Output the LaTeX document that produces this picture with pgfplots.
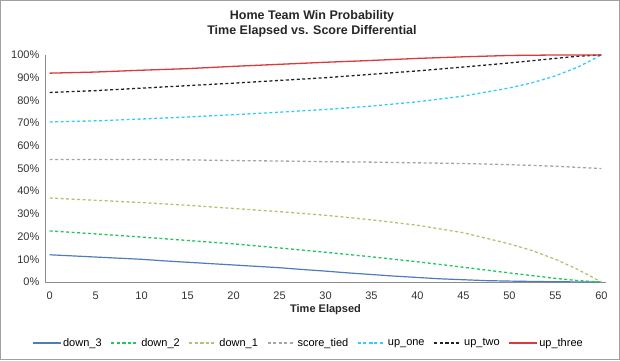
\documentclass[border=0pt]{standalone}
\usepackage{pgfplots}
\pgfplotsset{compat=1.18}
\usepackage{fontspec}
\setmainfont{Liberation Sans}
\definecolor{cdthree}{HTML}{4F7BC0}
\definecolor{cdtwo}{HTML}{22C55E}
\definecolor{cdone}{HTML}{BDBD78}
\definecolor{ctied}{HTML}{A6A6A6}
\definecolor{cupone}{HTML}{33CCFF}
\definecolor{cuptwo}{HTML}{222222}
\definecolor{cupthree}{HTML}{D93A3A}
\definecolor{cframe}{HTML}{A0A0A0}
\begin{document}
\begin{tikzpicture}[x=1pt,y=1pt]
\draw[cframe,line width=1.2pt] (0.6,0.6) rectangle (619.4,359.4);
\node[font=\bfseries\fontsize{12.5}{15}\selectfont,align=center,text=black!85] at (312,336) {Home Team Win Probability\\Time Elapsed vs. Score Differential};
\begin{axis}[
  at={(45pt,78pt)}, anchor=south west,
  scale only axis, width=561pt, height=227pt,
  xmin=-0.5, xmax=60.5, ymin=0, ymax=100,
  axis lines=left, axis line style={draw=black!45,-},
  xtick={0,5,...,60}, ytick={0,10,...,100},
  yticklabel={\pgfmathprintnumber{\tick}\%},
  tick style={draw=none},
  /pgf/number format/assume math mode=true,
  ticklabel style={font=\fontsize{11}{13}\selectfont,text=black!80},
  xticklabel style={yshift=-4pt},
  xlabel={Time Elapsed},
  xlabel style={font=\bfseries\fontsize{11}{13}\selectfont,text=black!85,
    at={(axis description cs:0.5,0)},anchor=center,yshift=-28pt},
  legend columns=7,
  legend style={at={(0.47,-0.269)},anchor=center,draw=none,font=\fontsize{11}{13}\selectfont,
    /tikz/every even column/.append style={column sep=7pt}},
  legend image post style={xscale=1.6},
  clip=false,
]
\addplot[cdthree,line width=1.2pt] coordinates {(0,12)(2.5,11.5)(5,11)(7.5,10.5)(10,10)(12.5,9.3)(15,8.7)(17.5,8.1)(20,7.5)(22.5,6.9)(25,6.3)(27.5,5.5)(30,4.8)(32.5,4)(35,3.3)(37.5,2.6)(40,2)(42.5,1.4)(45,1)(47.5,0.6)(50,0.4)(55,0.1)(60,0)};
\addlegendentry{down\_3}
\addplot[cdtwo,line width=1.3pt,dash pattern=on 3pt off 2.5pt] coordinates {(0,22.5)(5,21.2)(10,19.8)(15,18.3)(20,16.8)(25,15)(30,13.1)(35,11.1)(40,8.9)(45,6.5)(50,4)(55,1.6)(57.5,0.6)(60,0)};
\addlegendentry{down\_2}
\addplot[cdone,line width=1.3pt,dash pattern=on 3pt off 2.5pt] coordinates {(0,37)(5,36)(10,35)(15,33.8)(20,32.4)(25,31)(30,29.4)(35,27.4)(40,25)(45,21.7)(50,16.8)(52.5,13.8)(55,10)(57.5,5.4)(60,0)};
\addlegendentry{down\_1}
\addplot[ctied,line width=1.3pt,dash pattern=on 3pt off 2.5pt] coordinates {(0,54)(5,54)(10,54)(15,53.8)(20,53.5)(25,53.3)(30,53)(35,52.8)(40,52.5)(45,52.2)(50,51.7)(55,51)(60,50)};
\addlegendentry{score\_tied}
\addplot[cupone,line width=1.3pt,dash pattern=on 3pt off 2.5pt] coordinates {(0,70.5)(5,71)(10,71.8)(15,72.7)(20,73.7)(25,74.8)(30,76)(35,77.5)(40,79.4)(45,81.9)(50,85.5)(52.5,87.8)(55,90.8)(57.5,94.8)(60,100)};
\addlegendentry{up\_one}
\addplot[cuptwo,line width=1.3pt,dash pattern=on 3pt off 2.5pt] coordinates {(0,83.5)(5,84.3)(10,85.4)(15,86.5)(20,87.6)(25,88.8)(30,90)(35,91.5)(40,93)(45,94.7)(50,96.5)(55,98.5)(57.5,99.5)(60,100)};
\addlegendentry{up\_two}
\addplot[cupthree,line width=1.3pt] coordinates {(0,92)(5,92.5)(10,93.3)(15,94)(20,95)(25,95.9)(30,96.8)(35,97.6)(40,98.5)(45,99.2)(50,99.8)(55,100)(60,100)};
\addlegendentry{up\_three}
\end{axis}
\end{tikzpicture}
\end{document}
